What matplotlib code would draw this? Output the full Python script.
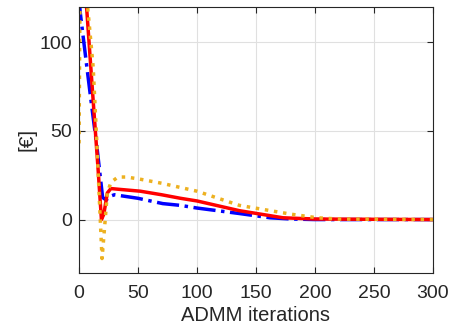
import matplotlib
matplotlib.use("Agg")
import matplotlib.pyplot as plt

# datos
x_blue = [0, 1, 5, 10, 15, 20, 23, 26, 30, 40, 50, 71, 86, 100, 136, 162, 180, 200, 300]
y_blue = [125, 117, 95, 68, 42, 12.5, 11, 13, 14, 13, 12, 9, 8, 6.5, 3.4, 1, 0.3, 0, 0]

x_red = [0, 4, 6.5, 12, 16, 19, 21, 24, 27, 35, 52, 70, 86, 100, 136, 173, 200, 300]
y_red = [140, 130, 119, 67, 30, 0, 3, 15, 17.5, 17, 16, 14, 12, 10.5, 5, 1, 0.3, 0]

x_yel = [0, 1, 5, 8, 12, 15, 17, 19.5, 21, 24, 27, 33, 40, 50, 70, 100, 136, 180, 202, 220, 300]
y_yel = [43, 140, 135, 115, 86, 45, 15, -22, -10, 15, 21, 24, 24, 23, 20.5, 16, 8, 3, 1, 0.3, 0]

plt.rcParams['font.family'] = ['Liberation Sans', 'DejaVu Sans']
gris = (0.15, 0.15, 0.15)

fig = plt.figure(figsize=(4.5, 3.3), dpi=100)
ax = fig.add_axes([0.1756, 0.1736, 0.7864, 0.8054])

ax.plot(x_blue, y_blue, '-.', color=(0, 0, 1), linewidth=2.5)
ax.plot(x_red, y_red, '-', color=(1, 0, 0), linewidth=2.5)
ax.plot(x_yel, y_yel, ':', color='#EDB120', linewidth=2.5)

ax.set_xlim(0, 300)
ax.set_ylim(-30, 120)
ax.set_xticks([0, 50, 100, 150, 200, 250, 300])
ax.set_yticks([0, 50, 100])
ax.grid(True, color=(0.88, 0.88, 0.88), linewidth=0.8)
ax.set_axisbelow(True)
ax.tick_params(direction='in', labelsize=14, colors=gris, length=4,
               top=True, right=True)
ax.tick_params(axis='x', pad=9)
ax.tick_params(axis='y', pad=5)
for s in ax.spines.values():
    s.set_color(gris)
    s.set_linewidth(0.8)

ax.set_xlabel('ADMM iterations', fontsize=14.5, color=gris, labelpad=3)
ax.set_ylabel('[€]', fontsize=15, color=gris, labelpad=2)

fig.savefig('out.png', dpi=100)
